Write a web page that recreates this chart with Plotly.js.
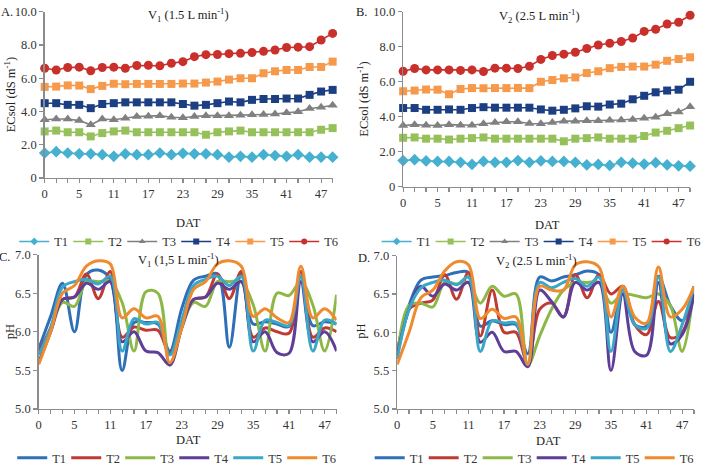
<!DOCTYPE html>
<html><head><meta charset="utf-8">
<script src="https://cdn.plot.ly/plotly-3.0.1.min.js"></script>
<style>html,body{margin:0;padding:0;background:#fff;overflow:hidden;width:708px;height:473px}#chart{width:708px;height:473px}</style>
</head><body><div id="chart"></div>
<script>
// ---- categories (days after transplanting) ----
const days = [0,1,3,5,7,9,11,13,15,17,19,21,23,25,27,29,31,33,35,37,39,41,43,45,47,49];
const dayTickLabels = ['0','','','5','','','11','','','17','','','23','','','29','','','35','','','41','','','47',''];
const seriesNames = ['T1','T2','T3','T4','T5','T6'];
const ecTicks = [0,2,4,6,8,10];
const ecTickText = ['0','2.0','4.0','6.0','8.0','10.0'];
const phTicks = [5.0,5.5,6.0,6.5,7.0];
const phTickText = ['5.0','5.5','6.0','6.5','7.0'];

// ---- A: ECsol, V1 ----
const ecV1_T1 = [1.5,1.58,1.5,1.45,1.45,1.4,1.3,1.45,1.4,1.4,1.5,1.4,1.48,1.45,1.45,1.4,1.25,1.3,1.25,1.4,1.35,1.3,1.4,1.25,1.25,1.25];
const ecV1_T2 = [2.8,2.85,2.75,2.75,2.5,2.7,2.8,2.85,2.75,2.75,2.75,2.75,2.75,2.75,2.6,2.75,2.8,2.85,2.75,2.75,2.75,2.75,2.75,2.75,2.9,3.0];
const ecV1_T3 = [3.5,3.55,3.55,3.45,3.2,3.55,3.5,3.6,3.7,3.72,3.75,3.65,3.62,3.7,3.75,3.75,3.75,3.78,3.8,3.82,3.85,3.92,3.98,4.18,4.25,4.38];
const ecV1_T4 = [4.5,4.5,4.4,4.4,4.2,4.45,4.5,4.55,4.55,4.55,4.55,4.55,4.45,4.35,4.4,4.5,4.6,4.55,4.7,4.75,4.75,4.78,4.78,5.0,5.2,5.3];
const ecV1_T5 = [5.48,5.5,5.57,5.56,5.35,5.54,5.67,5.64,5.66,5.66,5.66,5.66,5.68,5.68,5.74,5.8,5.92,6.0,6.0,6.3,6.42,6.5,6.5,6.68,6.68,7.0];
const ecV1_T6 = [6.6,6.5,6.65,6.67,6.45,6.65,6.67,6.6,6.77,6.78,6.75,6.9,7.0,7.3,7.42,7.43,7.48,7.5,7.55,7.62,7.7,7.85,7.87,7.9,8.3,8.7];

// ---- B: ECsol, V2 ----
const ecV2_T1 = [1.5,1.55,1.48,1.45,1.45,1.4,1.28,1.45,1.4,1.4,1.5,1.4,1.48,1.45,1.45,1.4,1.25,1.28,1.22,1.4,1.35,1.3,1.38,1.25,1.2,1.18];
const ecV2_T2 = [2.8,2.82,2.75,2.75,2.7,2.75,2.78,2.82,2.75,2.75,2.75,2.75,2.75,2.75,2.6,2.75,2.78,2.82,2.75,2.75,2.75,2.9,3.1,3.2,3.35,3.5];
const ecV2_T3 = [3.5,3.55,3.52,3.5,3.55,3.52,3.52,3.6,3.68,3.72,3.72,3.62,3.6,3.68,3.75,3.75,3.78,3.78,3.8,3.82,3.85,3.92,3.98,4.18,4.28,4.58];
const ecV2_T4 = [4.5,4.5,4.4,4.4,4.42,4.4,4.5,4.55,4.52,4.52,4.52,4.52,4.42,4.35,4.4,4.48,4.6,4.58,4.7,4.75,5.0,5.2,5.4,5.5,5.55,6.0];
const ecV2_T5 = [5.46,5.5,5.56,5.55,5.29,5.59,5.64,5.63,5.64,5.64,5.65,5.64,6.0,6.1,6.2,6.25,6.5,6.6,6.78,6.85,6.87,6.87,6.98,7.2,7.3,7.4];
const ecV2_T6 = [6.6,6.76,6.68,6.68,6.68,6.65,6.68,6.59,6.78,6.78,6.76,6.89,7.28,7.5,7.58,7.69,7.9,8.1,8.2,8.3,8.5,8.88,9.0,9.3,9.4,9.8];

// ---- C: pH, V1 ----
const phV1_T1 = [5.78,6.2,6.63,6.0,6.74,6.8,6.68,5.5,6.12,6.12,6.1,5.75,6.3,6.67,6.72,6.75,5.8,6.75,6.1,6.13,6.1,6.07,6.72,6.08,6.13,6.1];
const phV1_T2 = [5.72,6.05,6.42,6.45,6.75,6.43,6.78,5.93,6.06,6.02,6.02,5.72,6.1,6.42,6.45,6.75,6.43,6.78,5.93,6.05,6.0,5.98,6.78,5.93,6.05,6.0];
const phV1_T3 = [5.6,6.0,6.38,6.33,6.65,6.65,6.65,6.38,5.75,6.52,6.5,5.57,6.05,6.38,6.33,6.65,6.65,6.65,6.35,5.75,6.5,6.47,6.65,6.35,5.75,6.48];
const phV1_T4 = [5.6,6.0,6.42,6.45,6.63,6.55,6.65,5.87,6.0,5.75,5.73,5.57,6.05,6.42,6.45,6.63,6.55,6.65,5.87,6.0,5.73,5.72,6.65,5.87,6.0,5.75];
const phV1_T5 = [5.7,6.05,6.58,6.65,6.68,6.62,6.72,5.75,6.17,6.1,6.12,5.7,6.15,6.6,6.68,6.72,6.6,6.72,5.75,6.15,6.12,6.08,6.72,5.75,6.15,6.1];
const phV1_T6 = [5.58,6.0,6.5,6.6,6.85,6.92,6.88,6.18,6.3,6.18,6.2,5.6,6.05,6.55,6.65,6.88,6.92,6.85,6.2,6.3,6.18,6.12,6.85,6.18,6.3,6.15];

// ---- D: pH, V2 ----
const phV2_T1 = [5.75,6.35,6.68,6.72,6.74,6.78,6.78,6.08,6.15,6.1,6.1,5.72,6.72,6.67,6.72,6.75,6.8,6.75,6.0,6.55,6.1,6.08,6.73,6.35,6.15,6.5];
const phV2_T2 = [5.7,6.3,6.38,6.42,6.75,6.43,6.78,5.95,6.55,6.0,6.0,5.58,6.3,6.38,6.2,6.75,6.45,6.75,6.5,6.6,6.1,5.97,6.4,5.93,6.0,6.6];
const phV2_T3 = [5.65,6.35,6.38,6.33,6.65,6.63,6.65,6.38,6.6,6.47,6.5,5.57,5.95,6.3,6.55,6.65,6.65,6.65,6.38,6.5,6.48,6.45,6.5,6.35,5.75,6.6];
const phV2_T4 = [5.7,6.3,6.6,6.47,6.63,6.55,6.65,5.87,6.0,5.75,5.75,5.55,6.55,6.4,6.2,6.65,6.55,6.65,5.5,6.5,5.75,5.7,6.65,5.85,5.97,6.5];
const phV2_T5 = [5.65,6.3,6.58,6.65,6.68,6.62,6.72,5.75,6.15,6.12,6.12,5.58,6.65,6.58,6.65,6.7,6.6,6.72,5.75,6.55,6.1,6.05,6.72,5.75,6.1,6.6];
const phV2_T6 = [5.58,6.0,6.45,6.55,6.8,6.92,6.88,6.18,6.3,6.18,6.2,5.58,6.6,6.55,6.55,6.88,6.92,6.85,6.2,6.6,6.2,6.12,6.85,6.2,6.3,6.6];

const ecColors = ['#45B0CF','#96C15A','#808080','#1C3F84','#F7994A','#C9302C'];
const ecSymbols = ['diamond','square','triangle-up','square','square','circle'];
const ecSizes = [9,8,9,8,8,9];
const phColors = ['#2E6FB7','#BF3A33','#8DB848','#5E3E98','#3AA7C7','#F08A2E'];

const W = 708, H = 473;
const fx = p => p / W, fy = p => 1 - p / H;
const FONT = 'Liberation Serif';
const AX = '#8c8c8c';
const dayStr = days.map(String);
const lastEntryWidth = 16;   // keeps the final key label unclipped

function xax(l, r, anchor) {
  return {domain:[fx(l), fx(r)], anchor, type:'category', range:[0, days.length - 1],
    tickmode:'array', tickvals:dayStr, ticktext:dayTickLabels,
    ticks:'outside', ticklen:4, tickwidth:1.2, tickcolor:AX,
    showline:true, linecolor:AX, linewidth:1.5, showgrid:false, zeroline:false,
    tickfont:{family:FONT, size:12.5, color:'#333'}, fixedrange:true};
}
function yax(t, b, anchor, range, vals, text) {
  return {domain:[fy(b), fy(t)], anchor, range, tickmode:'array', tickvals:vals, ticktext:text,
    ticks:'outside', ticklen:4, tickwidth:1.2, tickcolor:AX,
    showline:true, linecolor:AX, linewidth:1.5, showgrid:false, zeroline:false,
    tickfont:{family:FONT, size:12.5, color:'#333'}, fixedrange:true};
}

const ecV1 = [ecV1_T1,ecV1_T2,ecV1_T3,ecV1_T4,ecV1_T5,ecV1_T6];
const ecV2 = [ecV2_T1,ecV2_T2,ecV2_T3,ecV2_T4,ecV2_T5,ecV2_T6];
const phV1 = [phV1_T1,phV1_T2,phV1_T3,phV1_T4,phV1_T5,phV1_T6];
const phV2 = [phV2_T1,phV2_T2,phV2_T3,phV2_T4,phV2_T5,phV2_T6];

const traces = [];
function ecTraces(data, xa, ya, leg) {
  data.forEach((ys, i) => {
    traces.push({
      x: dayStr, y: ys, xaxis: xa, yaxis: ya, showlegend: false, name: seriesNames[i],
      type: 'scatter', mode: 'lines+markers', cliponaxis: false,
      line: {color: ecColors[i], width: 1.6},
      marker: {color: ecColors[i], symbol: ecSymbols[i], size: ecSizes[i]}
    });
  });
  // legend entries drawn with the smaller symbols used in the original key
  data.forEach((ys, i) => {
    const t = {
      x: [null], y: [null], xaxis: xa, yaxis: ya, legend: leg, name: seriesNames[i],
      type: 'scatter', mode: 'lines+markers', hoverinfo: 'skip',
      line: {color: ecColors[i], width: 1.6},
      marker: {color: ecColors[i], symbol: ecSymbols[i], size: 6}
    };
    if (i === data.length - 1) t.legendwidth = lastEntryWidth;
    traces.push(t);
  });
}
function phTraces(data, xa, ya, leg) {
  data.forEach((ys, i) => {
    const t = {
      x: dayStr, y: ys, xaxis: xa, yaxis: ya, legend: leg, name: seriesNames[i],
      type: 'scatter', mode: 'lines', cliponaxis: false,
      line: {color: phColors[i], width: 3, shape: 'spline', smoothing: 1}
    };
    if (i === data.length - 1) t.legendwidth = lastEntryWidth;
    traces.push(t);
  });
}
ecTraces(ecV1, 'x', 'y', 'legend');
ecTraces(ecV2, 'x2', 'y2', 'legend2');
phTraces(phV1, 'x3', 'y3', 'legend3');
phTraces(phV2, 'x4', 'y4', 'legend4');

function leg(cx, cy) {
  return {orientation:'h', x:fx(cx), y:fy(cy), xanchor:'center', yanchor:'middle',
    font:{family:FONT, size:12.5, color:'#333'}, bgcolor:'rgba(0,0,0,0)', itemwidth:30,
    entrywidth:9, entrywidthmode:'pixels', tracegroupgap:0};
}
function ann(text, px, py, opts) {
  return Object.assign({text, x:fx(px), y:fy(py), xref:'paper', yref:'paper', showarrow:false,
    xanchor:'center', yanchor:'middle', font:{family:FONT, size:12.5, color:'#222'}}, opts || {});
}

const layout = {
  width: W, height: H, margin: {l:0, r:0, t:0, b:0},
  paper_bgcolor: '#fff', plot_bgcolor: 'rgba(0,0,0,0)',
  xaxis: xax(45, 335, 'y'),
  yaxis: yax(12, 181, 'x', [0, 10], ecTicks, ecTickText),
  xaxis2: xax(406, 695, 'y2'),
  yaxis2: yax(12, 190, 'x2', [0, 10], ecTicks, ecTickText),
  xaxis3: xax(39, 339, 'y3'),
  yaxis3: yax(259, 416, 'x3', [5, 7], phTicks, phTickText),
  xaxis4: xax(400, 699, 'y4'),
  yaxis4: yax(260, 416, 'x4', [5, 7], phTicks, phTickText),
  legend: leg(181, 246),
  legend2: leg(546, 246),
  legend3: leg(179, 466),
  legend4: leg(539, 466),
  annotations: [
    ann('A.', -1, 12, {xanchor:'left', font:{family:FONT, size:12.5, color:'#222'}}),
    ann('B.', 357, 12, {xanchor:'left', font:{family:FONT, size:12.5, color:'#222'}}),
    ann('C.', -3, 261, {xanchor:'left', font:{family:FONT, size:12.5, color:'#222'}}),
    ann('D.', 359, 262, {xanchor:'left', font:{family:FONT, size:12.5, color:'#222'}}),
    ann('V<sub>1</sub> (1.5 L min<sup>-1</sup>)', 190, 15),
    ann('V<sub>2</sub> (2.5 L min<sup>-1</sup>)', 543, 16),
    ann('V<sub>1</sub> (1,5 L min<sup>-1</sup>)', 180, 264),
    ann('V<sub>2</sub> (2.5 L min<sup>-1</sup>)', 540, 265),
    ann('ECsol (dS m<sup>-1</sup>)', 10, 96, {textangle:-90}),
    ann('ECsol (dS m<sup>-1</sup>)', 366, 101, {textangle:-90}),
    ann('pH', 10, 337, {textangle:-90}),
    ann('pH', 364, 337, {textangle:-90}),
    ann('DAT', 190, 227),
    ann('DAT', 551, 229),
    ann('DAT', 190, 448),
    ann('DAT', 552, 449)
  ]
};

Plotly.newPlot('chart', traces, layout, {staticPlot: true, displayModeBar: false});
</script>
</body></html>
